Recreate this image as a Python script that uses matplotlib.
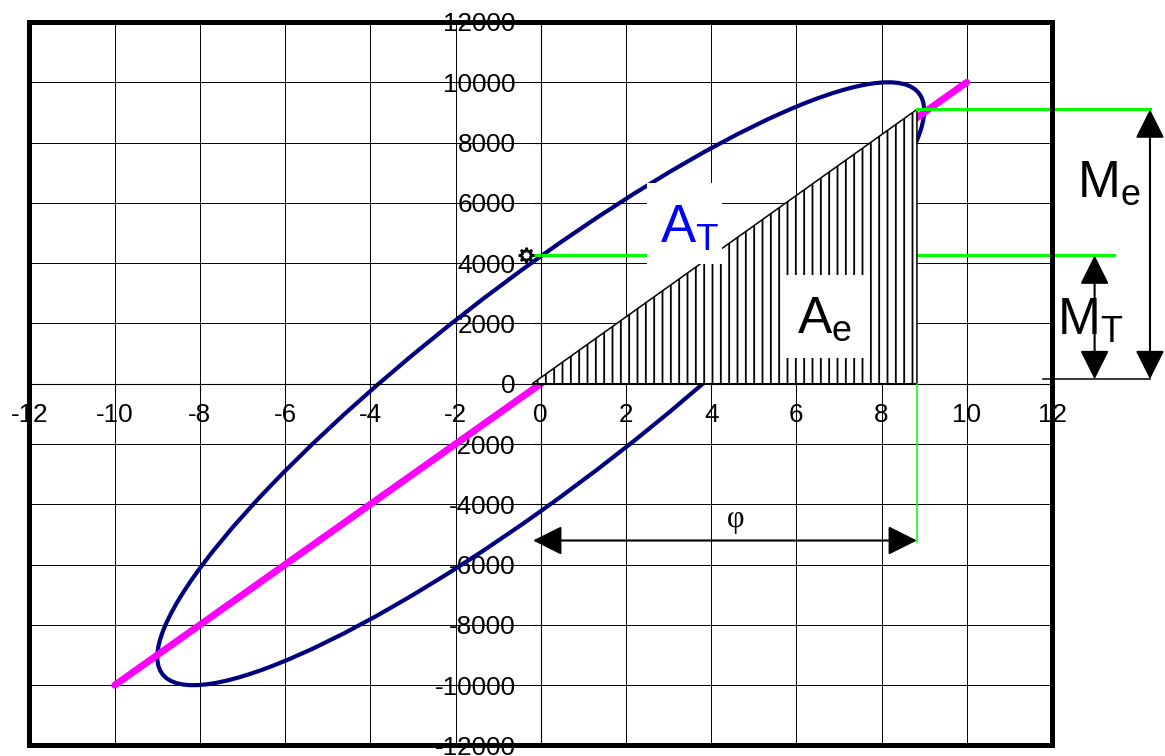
import numpy as np
import matplotlib
matplotlib.use('Agg')
import matplotlib.pyplot as plt
from matplotlib.patches import Circle, Polygon, Rectangle
from matplotlib.transforms import Affine2D

plt.rcParams['font.family'] = ['Liberation Sans', 'DejaVu Sans']
plt.rcParams['axes.unicode_minus'] = False
plt.rcParams['hatch.linewidth'] = 1.3

# петля гистерезиса: амплитуда деформации, амплитуда напряжения, сдвиг фаз
strain_amp = 9.0
stress_amp = 10000
phase_deg = 25

# упругая прямая
elastic_x = [-10, 10]
elastic_y = [-10000, 10000]

# треугольник упругой энергии A_e
tri_x = [-0.2, 8.83, 8.83]
tri_y = [0, 9100, 0]

m_e = 9100      # уровень M_e
m_t = 4255      # уровень M_T
phi_y = -5200   # уровень стрелки φ
base_y = 150

x_ticks = list(range(-12, 13, 2))
y_ticks = list(range(-12000, 12001, 2000))

fig = plt.figure(figsize=(11.65, 7.56), dpi=100)
ax = fig.add_axes([0.0253, 0.0139, 0.8777, 0.957])
ax.set_xlim(-12, 12)
ax.set_ylim(-12000, 12000)
ax.set_xticks(x_ticks)
ax.set_yticks(y_ticks)
ax.grid(True, color='black', lw=0.7)
ax.set_axisbelow(True)

# оси через начало координат, рамка отдельно
for s in ['top', 'right']:
    ax.spines[s].set_visible(False)
for s in ['left', 'bottom']:
    ax.spines[s].set_position(('data', 0))
    ax.spines[s].set_linewidth(0.8)
ax.tick_params(direction='out', length=5, width=0.8, labelsize=18.7)
ax.tick_params(axis='x', pad=9)
ax.tick_params(axis='y', pad=13)
ax.add_patch(Rectangle((0, 0), 1, 1, transform=ax.transAxes, fill=False,
                       ec='black', lw=3.6, clip_on=False, zorder=10))

# эллипс как аффинный образ единичной окружности
d = np.radians(phase_deg)
M = Affine2D(np.array([[strain_amp, 0, 0],
                       [stress_amp * np.cos(d), stress_amp * np.sin(d), 0],
                       [0, 0, 1]]))
ax.add_patch(Circle((0, 0), 1, transform=M + ax.transData, fill=False,
                    ec='#000080', lw=3.0, zorder=2))

ax.plot(elastic_x, elastic_y, color='#FF00FF', lw=5, solid_capstyle='round', zorder=2)

# зелёные выносные линии
ax.plot([-0.14, 13.45], [m_t, m_t], color='#00FF00', lw=2.2, zorder=2, clip_on=False)
ax.plot([tri_x[1], 14.3], [m_e, m_e], color='#00FF00', lw=2.2, zorder=3.5, clip_on=False)
ax.plot([tri_x[1], tri_x[1]], [0, phi_y - 50], color='#00FF00', lw=1.1, zorder=3.5)

ax.add_patch(Polygon(list(zip(tri_x, tri_y)), closed=True, fc='white', ec='black',
                     hatch='||', lw=1.1, zorder=3))

ax.plot([-0.35], [m_t], marker=(8, 1, 0), ms=11, mfc='white', mec='black', mew=1.7,
        zorder=6)

# подписи на белом фоне
ax.add_patch(Rectangle((2.49, 3972), 1.76, 2686, fc='white', ec='none', zorder=4))
ax.add_patch(Rectangle((5.66, 854), 2.07, 2753, fc='white', ec='none', zorder=4))
ax.text(2.8, 4668, r'$\mathregular{A_T}$', color='#0000FF', fontsize=38, zorder=6)
ax.text(6.02, 1683, r'$\mathregular{A_e}$', color='black', fontsize=37, zorder=6)
ax.text(12.59, 6194, r'$\mathregular{M_e}$', color='black', fontsize=37, zorder=6)
ax.text(12.12, 1617, r'$\mathregular{M_T}$', color='black', fontsize=37, zorder=6)
ax.text(4.58, -4490, 'φ', family='Liberation Serif', fontsize=22, ha='center',
        va='center', zorder=6)

arrow = dict(arrowstyle='<|-|>,head_length=0.4,head_width=0.2', mutation_scale=45,
             lw=1.5, color='black', shrinkA=0, shrinkB=0)
ax.annotate('', xy=(14.3, m_e), xytext=(14.3, base_y), arrowprops=arrow,
            annotation_clip=False)
ax.annotate('', xy=(13.0, m_t), xytext=(13.0, base_y), arrowprops=arrow,
            annotation_clip=False)
ax.annotate('', xy=(-0.18, phi_y), xytext=(tri_x[1], phi_y), arrowprops=arrow,
            annotation_clip=False)
ax.plot([11.8, 14.3], [base_y, base_y], color='black', lw=1.1, clip_on=False, zorder=5)

fig.savefig('out.png', dpi=100)
